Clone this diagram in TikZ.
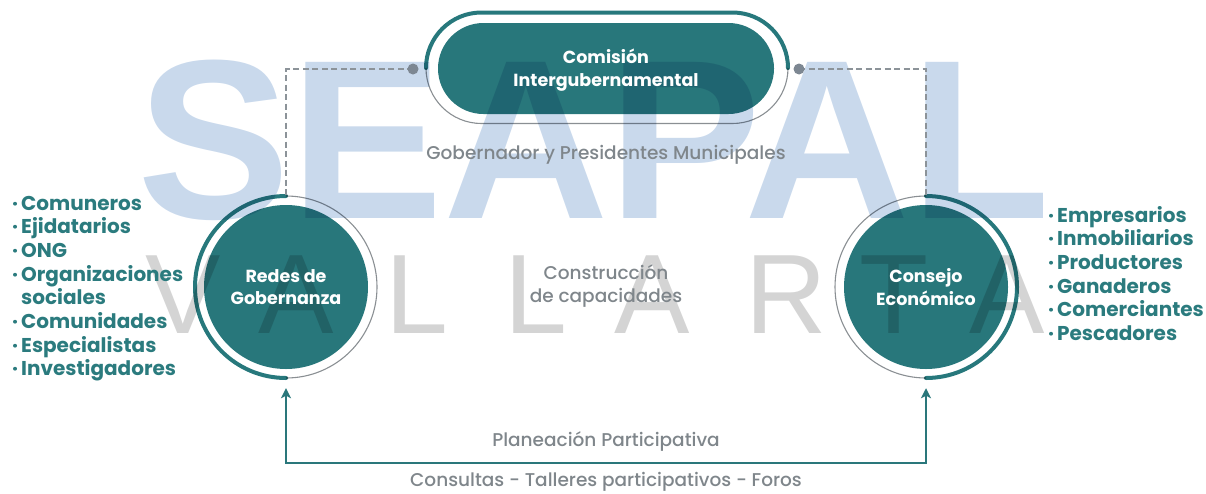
\documentclass[tikz,border=0pt]{standalone}
\usepackage{fontspec}
\setmainfont{Poppins}
\newfontfamily\popmed{Poppins Medium}
\newfontfamily\wmfont{Liberation Sans}
\usetikzlibrary{arrows.meta}
\definecolor{tealfill}{HTML}{28777B}
\definecolor{tealring}{HTML}{27787C}
\definecolor{tealtext}{HTML}{2B7B7E}
\definecolor{tealline}{HTML}{2A777B}
\definecolor{graytext}{HTML}{7F868B}
\definecolor{grayring}{HTML}{8A8F93}
\definecolor{dashc}{HTML}{8C9399}
\definecolor{dotc}{HTML}{7D8792}
\definecolor{wmblue}{HTML}{C9D9EC}
\definecolor{wmgray}{HTML}{D4D4D4}
\begin{document}
\begin{tikzpicture}[x=1pt,y=-1pt,
  wmS/.style={font=\wmfont\bfseries\fontsize{227}{227}\selectfont, text=wmblue, inner sep=0pt, anchor=base west, xscale=1.01},
  wmV/.style={font=\wmfont\fontsize{113}{113}\selectfont, text=wmgray, inner sep=0pt, anchor=base},
  disc/.style={circle, fill=tealfill, minimum size=164pt, inner sep=0pt},
  ringnode/.style={circle, minimum size=182pt, inner sep=0pt},
  ringteal/.style={draw=tealring, line width=4pt, line cap=round},
  ringgray/.style={draw=grayring, line width=1.1pt},
  whitelbl/.style={font=\bfseries\fontsize{17.5}{22.5}\selectfont, text=white, align=center, inner sep=0pt},
  graylbl/.style={font=\popmed\fontsize{18.5}{23}\selectfont, text=graytext, align=center, inner sep=0pt},
  listtxt/.style={font=\bfseries\fontsize{20}{23.7}\selectfont, text=tealtext, inner sep=0pt, anchor=base west},
  dashln/.style={draw=dashc, line width=1.5pt, dash pattern=on 6pt off 3.5pt},
  arrowln/.style={draw=tealline, line width=2pt, {Stealth[length=10pt,width=10pt,inset=2.5pt]}-{Stealth[length=10pt,width=10pt,inset=2.5pt]}}
]
\useasboundingbox (0,0) rectangle (1206,493);

% watermark
\node[wmS] (wmseapal) at (137,218) {SEAPAL};
\foreach \l/\x [count=\i] in {V/183,A/296,L/417,L/536,A/652,R/786,T/894,A/1007}
  \node[wmV] (wmv\i) at (\x,333) {\l};

% shapes (multiplied over the watermark)
\begin{scope}[blend mode=multiply]
  \node[fill=tealfill, minimum width=336pt, minimum height=91pt, rounded corners=45.5pt, inner sep=0pt] (pill) at (606,68.5) {};
  \node[disc] (redes) at (286,287) {};
  \node[disc] (consejo) at (926,287) {};
  % pill outline
  \draw[ringteal] (426,68) arc[start angle=180,end angle=270,radius=55.5] -- (732.5,12.5) arc[start angle=270,end angle=360,radius=55.5];
  \draw[ringgray] (426,68) arc[start angle=180,end angle=90,radius=55.5] -- (732.5,123.5) arc[start angle=90,end angle=0,radius=55.5];
  % circle rings
  \draw[ringteal] (286,196) arc[start angle=270,end angle=90,radius=91];
  \draw[ringgray] (286,196) arc[start angle=270,end angle=450,radius=91];
  \draw[ringteal] (926,196) arc[start angle=270,end angle=450,radius=91];
  \draw[ringgray] (926,196) arc[start angle=270,end angle=90,radius=91];
\end{scope}

\node[ringnode] (redesR) at (286,287) {};
\node[ringnode] (consejoR) at (926,287) {};

% dashed links from the pill to the circles
\coordinate (dotL) at (413,69);
\coordinate (dotR) at (799,69);
\draw[dashln] (dotL) -| (redesR.north);
\draw[dashln] (dotR) -| (consejoR.north);
\fill[dotc] (dotL) circle (5.5);
\fill[dotc] (dotR) circle (5.5);

% bottom double arrow
\path ([yshift=-10pt]redesR.south) ++(0,75) coordinate (bcorner);
\draw[arrowln] ([yshift=-10pt]redesR.south) -- (bcorner) -| ([yshift=-10pt]consejoR.south);

% labels
\node[whitelbl] at ([yshift=-1.5pt]pill.center) {Comisión\\Intergubernamental};
\node[whitelbl] at (redes.center) {Redes de\\Gobernanza};
\node[whitelbl] at (consejo.center) {Consejo\\Económico};

\node[graylbl] (gob) at (606,155) {Gobernador y Presidentes Municipales};
\node[graylbl] (cap) at (606,286) {Construcción\\de capacidades};
\node[graylbl] (plan) at (606,441) {Planeación Participativa};
\node[graylbl] (cons) at (606,482) {Consultas - Talleres participativos - Foros};

% lists
\node[listtxt] (listL) at (12,210) {\begin{tabular}[t]{@{}l@{\hspace{3pt}}l@{}}
·&Comuneros\\ ·&Ejidatarios\\ ·&ONG\\ ·&Organizaciones\\ &sociales\\ ·&Comunidades\\ ·&Especialistas\\ ·&Investigadores
\end{tabular}};
\node[listtxt] (listR) at (1048,222) {\begin{tabular}[t]{@{}l@{\hspace{3pt}}l@{}}
·&Empresarios\\ ·&Inmobiliarios\\ ·&Productores\\ ·&Ganaderos\\ ·&Comerciantes\\ ·&Pescadores
\end{tabular}};
\end{tikzpicture}
\end{document}
